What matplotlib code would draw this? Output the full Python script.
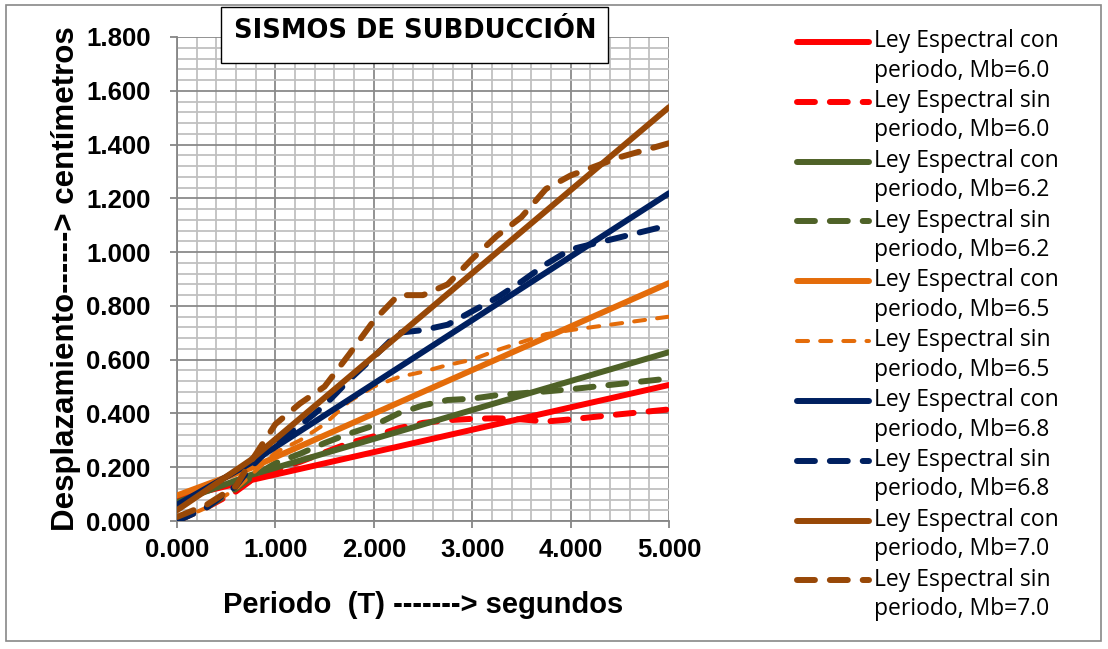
import numpy as np
import matplotlib
matplotlib.use("Agg")
import matplotlib.pyplot as plt
from matplotlib.ticker import MultipleLocator, FormatStrFormatter
from matplotlib.legend_handler import HandlerLine2D
from matplotlib.patches import Rectangle

# ---- data -------------------------------------------------------------
# Periods (s) for the spectral law including the period term
t_con = [0.0, 0.75, 5.0]
con_60 = [0.085, 0.152, 0.506]
con_62 = [0.070, 0.171, 0.628]
con_65 = [0.095, 0.197, 0.885]
con_68 = [0.060, 0.216, 1.219]
con_70 = [0.040, 0.227, 1.539]

# Periods (s) for the spectral law without the period term
t_sin = [0.0, 0.3, 0.6, 0.75, 1.0, 1.25, 1.5, 1.75, 2.0, 2.25, 2.5,
         2.75, 3.0, 3.25, 3.5, 3.75, 4.0, 4.5, 5.0]
sin_60 = [0.000, 0.050, 0.110, 0.150, 0.190, 0.220, 0.255, 0.290, 0.315,
          0.345, 0.365, 0.375, 0.380, 0.382, 0.378, 0.370, 0.378, 0.397, 0.415]
sin_62 = [0.000, 0.050, 0.120, 0.160, 0.215, 0.250, 0.290, 0.325, 0.355,
          0.400, 0.430, 0.450, 0.455, 0.468, 0.475, 0.482, 0.490, 0.510, 0.530]
sin_65 = [0.000, 0.050, 0.120, 0.170, 0.255, 0.300, 0.360, 0.445, 0.500,
          0.535, 0.555, 0.580, 0.600, 0.635, 0.665, 0.695, 0.710, 0.735, 0.760]
sin_68 = [0.000, 0.050, 0.130, 0.200, 0.290, 0.355, 0.430, 0.525, 0.610,
          0.700, 0.710, 0.730, 0.780, 0.830, 0.890, 0.955, 1.010, 1.055, 1.100]
sin_70 = [0.015, 0.060, 0.130, 0.220, 0.360, 0.437, 0.500, 0.620, 0.745,
          0.840, 0.840, 0.880, 0.975, 1.060, 1.130, 1.235, 1.285, 1.353, 1.405]

magnitudes = ["6.0", "6.2", "6.5", "6.8", "7.0"]
con_series = [con_60, con_62, con_65, con_68, con_70]
sin_series = [sin_60, sin_62, sin_65, sin_68, sin_70]
colors = ["#FF0000", "#4F6228", "#E46C0A", "#002060", "#984807"]

x_ticks = [0, 1, 2, 3, 4, 5]
y_ticks = [0.0, 0.2, 0.4, 0.6, 0.8, 1.0, 1.2, 1.4, 1.6, 1.8]

# ---- figure -----------------------------------------------------------
fig = plt.figure(figsize=(11.08, 6.49), dpi=100)
ax = fig.add_axes([0.1597, 0.1972, 0.4441, 0.7458])

lw = 4.3
for mb, ycon, ysin, c in zip(magnitudes, con_series, sin_series, colors):
    ax.plot(t_con, ycon, color=c, lw=lw, solid_capstyle="round",
            solid_joinstyle="round",
            label=f"Ley Espectral con\nperiodo, Mb={mb}", zorder=3)
    if mb == "6.5":
        ax.plot(t_sin, ysin, color=c, lw=2.9, dashes=(2.75, 3.0),
                dash_capstyle="round", dash_joinstyle="round",
                label=f"Ley Espectral sin\nperiodo, Mb={mb}", zorder=3)
    else:
        ax.plot(t_sin, ysin, color=c, lw=lw, dashes=(3.0, 2.5),
                dash_capstyle="round", dash_joinstyle="round",
                label=f"Ley Espectral sin\nperiodo, Mb={mb}", zorder=3)

ax.set_xlim(0, 5)
ax.set_ylim(0, 1.8)
ax.set_xticks(x_ticks)
ax.set_yticks(y_ticks)
ax.xaxis.set_minor_locator(MultipleLocator(0.2))
ax.yaxis.set_minor_locator(MultipleLocator(0.04))
ax.xaxis.set_major_formatter(FormatStrFormatter("%.3f"))
ax.yaxis.set_major_formatter(FormatStrFormatter("%.3f"))

ax.grid(which="minor", color="#C0C0C0", lw=1.3, zorder=0)
ax.grid(which="major", color="#8A8A8A", lw=1.3, zorder=0)
ax.set_axisbelow(True)

for s in ["top", "right"]:
    ax.spines[s].set_visible(False)
for s in ["left", "bottom"]:
    ax.spines[s].set_color("#868686")
    ax.spines[s].set_linewidth(1.3)

ax.tick_params(which="major", length=5, width=1.3, color="#868686",
               labelsize=18.5)
ax.tick_params(axis="y", which="major", pad=14)
ax.tick_params(axis="x", which="major", pad=7)
ax.tick_params(which="minor", length=0)
for lab in ax.get_xticklabels() + ax.get_yticklabels():
    lab.set_fontfamily("Liberation Sans")
    lab.set_fontweight("bold")

ax.set_xlabel("Periodo  (T) -------> segundos", fontsize=21,
              fontweight="bold", family="Liberation Sans", labelpad=21)
ax.set_ylabel("Desplazamiento------> centímetros", fontsize=22.5,
              fontweight="bold", family="Liberation Sans", labelpad=4)


class TopAlignedLine(HandlerLine2D):
    """Legend line aligned with the first row of a two-row label."""
    def create_artists(self, legend, orig_handle, xdescent, ydescent,
                       width, height, fontsize, trans):
        arts = super().create_artists(legend, orig_handle, xdescent, ydescent,
                                      width, height, fontsize, trans)
        for a in arts:
            a.set_ydata(np.asarray(a.get_ydata()) + 0.5 * fontsize * 1.3)
        return arts


handles, labels = ax.get_legend_handles_labels()
leg = fig.legend(handles, labels, loc="upper left",
                 bbox_to_anchor=(0.7193, 0.955), frameon=False,
                 prop={"family": "Open Sans", "size": 16.5},
                 handlelength=3.15, handletextpad=0.2, labelspacing=0.28,
                 borderpad=0, borderaxespad=0,
                 handler_map={h: TopAlignedLine() for h in handles})
for t in leg.get_texts():
    t.set_linespacing(1.3)

# Title box
fig.patches.append(Rectangle((221 / 1108, 1 - 63 / 649), 387 / 1108, 56 / 649,
                             transform=fig.transFigure, facecolor="white",
                             edgecolor="black", lw=1.0, zorder=5))
fig.text(415 / 1108, 1 - 31 / 649, "SISMOS DE SUBDUCCIÓN", ha="center",
         va="center", fontsize=18.5, fontweight="bold", family="DejaVu Sans",
         zorder=6)

# Outer chart border
fig.patches.append(Rectangle((6 / 1108, 8 / 649), 1095 / 1108, 636 / 649,
                             transform=fig.transFigure, facecolor="none",
                             edgecolor="#888888", lw=1.2, zorder=0))

fig.savefig("out.png", dpi=100)
